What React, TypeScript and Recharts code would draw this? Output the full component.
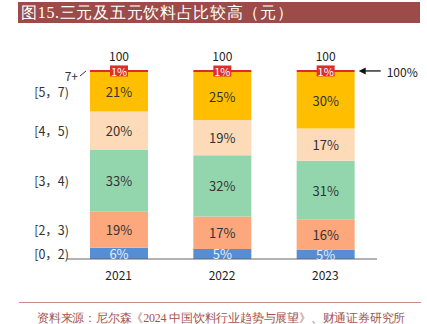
import { BarChart, Bar, XAxis, YAxis, LabelList } from "recharts";

const years = ["2021", "2022", "2023"];
const seriesNames = ["[0，2)", "[2，3)", "[3，4)", "[4，5)", "[5，7)", "7+"];
const share0to2 = [6, 5.3, 5];
const share2to3 = [19, 17.2, 16];
const share3to4 = [33, 32.4, 31];
const share4to5 = [20, 18.6, 17];
const share5to7 = [21, 25.4, 30];
const share7plus = [1, 1.1, 1];
const totals = [100, 100, 100];

const keys = ["s0", "s1", "s2", "s3", "s4", "s5"];
const colors = ["#558ed5", "#fca77c", "#93d6ae", "#fddab8", "#ffbf00", "#dd2b2b"];
const labelColors = ["#e3edf9", "#333", "#333", "#333", "#333", "#fff"];

const data = years.map((year, i) => ({
  year,
  s0: share0to2[i],
  s1: share2to3[i],
  s2: share3to4[i],
  s3: share4to5[i],
  s4: share5to7[i],
  s5: share7plus[i],
  total: totals[i],
}));

const font = "'Noto Sans CJK SC', 'Noto Sans', sans-serif";

function sideLabel(name: string) {
  return (p: any) => {
    if (p.index !== 0) return null;
    return (
      <text
        x={p.x - 21}
        y={p.y + p.height / 2}
        textAnchor="end"
        dominantBaseline="central"
        fontSize={12.5}
        fill="#333"
        fontFamily={font}
      >
        {name}
      </text>
    );
  };
}

function segLabel(color: string) {
  return (p: any) => (
    <text
      x={p.x + p.width / 2}
      y={p.y + p.height / 2}
      textAnchor="middle"
      dominantBaseline="central"
      fontSize={13}
      fill={color}
      fontFamily={font}
    >
      {Math.round(p.value)}%
    </text>
  );
}

function topLabel(p: any) {
  const cx = p.x + p.width / 2;
  const cy = p.y + p.height / 2;
  return (
    <g>
      <rect x={cx - 9} y={cy - 5.5} width={18} height={11} fill="#d9302c" />
      <text x={cx} y={cy} textAnchor="middle" dominantBaseline="central" fontSize={11} fill="#fff" fontFamily={font}>
        {Math.round(p.value)}%
      </text>
      <text x={cx} y={55} textAnchor="middle" dominantBaseline="central" fontSize={12} fill="#222" fontFamily={font}>
        {totals[p.index]}
      </text>
      {p.index === 0 && (
        <g>
          <text x={p.x - 12} y={75} textAnchor="end" dominantBaseline="central" fontSize={12} fill="#333" fontFamily={font}>
            {seriesNames[5]}
          </text>
          <line x1={p.x - 10} y1={76} x2={p.x - 4} y2={71} stroke="#333" strokeWidth={1} />
        </g>
      )}
      {p.index === 2 && (
        <g>
          <line x1={p.x + p.width + 8} y1={cy} x2={p.x + p.width + 26} y2={cy} stroke="#111" strokeWidth={1.3} />
          <path d={`M${p.x + p.width + 4},${cy} l7,-3.5 l0,7 z`} fill="#111" />
          <text x={p.x + p.width + 32} y={cy + 1} dominantBaseline="central" fontSize={12} fill="#222" fontFamily={font}>
            100%
          </text>
        </g>
      )}
    </g>
  );
}

export default function App() {
  return (
    <div style={{ position: "absolute", left: 0, top: 0, width: 427, height: 324, background: "#fff" }}>
      <div
        style={{
          position: "absolute",
          left: 18,
          top: 2,
          width: 402,
          height: 21,
          background: "#9c4b48",
          color: "#fff",
          fontFamily: "serif",
          fontSize: 16,
          letterSpacing: 0.7,
          lineHeight: "21px",
          paddingLeft: 3,
          boxSizing: "border-box",
          whiteSpace: "nowrap",
        }}
      >
        图15.三元及五元饮料占比较高（元）
      </div>
      <BarChart
        width={427}
        height={324}
        data={data}
        margin={{ top: 70, right: 50, bottom: 45, left: 67 }}
        barSize={58}
      >
        <XAxis
          dataKey="year"
          height={20}
          stroke="#666"
          tickLine={false}
          tick={{ fontSize: 12, fill: "#222", fontFamily: font }}
          tickMargin={6}
        />
        <YAxis hide domain={[0, 100]} />
        {keys.map((k, i) => (
          <Bar key={k} dataKey={k} stackId="a" fill={colors[i]} isAnimationActive={false}>
            {i < 5 && <LabelList dataKey={k} content={segLabel(labelColors[i])} />}
            {i < 5 && <LabelList dataKey={k} content={sideLabel(seriesNames[i])} />}
            {i === 5 && <LabelList dataKey={k} content={topLabel} />}
          </Bar>
        ))}
      </BarChart>
      <div
        style={{
          position: "absolute",
          left: 19,
          top: 302,
          width: 402,
          height: 1,
          background: "#c98a86",
        }}
      />
      <div
        style={{
          position: "absolute",
          left: 37,
          top: 310,
          color: "#a5524e",
          fontFamily: "serif",
          fontSize: 12,
          letterSpacing: -0.2,
          whiteSpace: "nowrap",
          lineHeight: "16px",
        }}
      >
        资料来源：尼尔森《2024 中国饮料行业趋势与展望》、财通证券研究所
      </div>
    </div>
  );
}
